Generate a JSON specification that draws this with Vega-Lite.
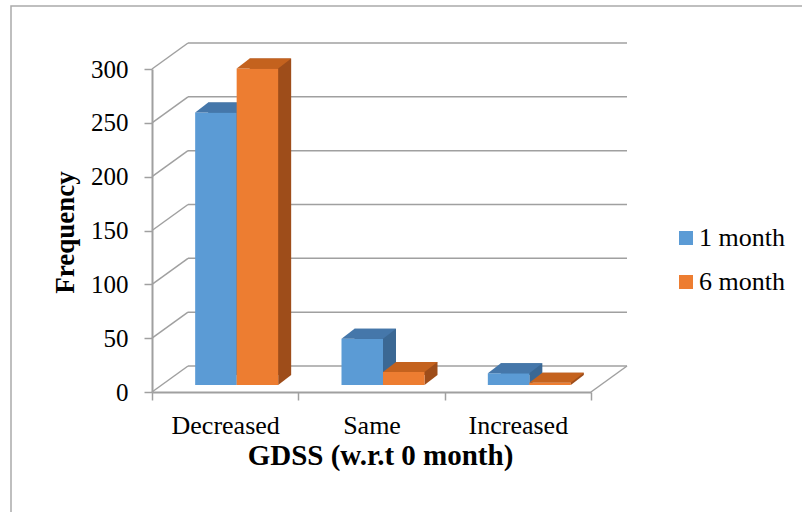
{
  "$schema": "https://vega.github.io/schema/vega-lite/v6.json",
  "width": 796,
  "height": 511,
  "autosize": {"type": "none"},
  "padding": {"left": 11, "top": 6, "right": 0, "bottom": 0},
  "background": "white",
  "config": {
    "view": {"stroke": "#ABABAB", "strokeWidth": 1.5, "fill": "white"},
    "font": "Liberation Serif"
  },
  "datasets": {
    "levels": [
      {"v": 0}, {"v": 50}, {"v": 100}, {"v": 150}, {"v": 200}, {"v": 250}, {"v": 300}
    ],
    "freq": [
      {"gdss": "Decreased", "period": "1 month", "count": 253},
      {"gdss": "Same", "period": "1 month", "count": 43},
      {"gdss": "Increased", "period": "1 month", "count": 11},
      {"gdss": "Decreased", "period": "6 month", "count": 294},
      {"gdss": "Same", "period": "6 month", "count": 12},
      {"gdss": "Increased", "period": "6 month", "count": 2}
    ]
  },
  "layer": [
    {
      "data": {"name": "levels"},
      "layer": [
        {
          "mark": {"type": "rule", "color": "#A0A0A0", "strokeWidth": 1.5, "xOffset": 36, "x2Offset": 36, "yOffset": -26},
          "encoding": {
            "x": {"datum": 0, "type": "quantitative", "scale": {"domain": [0, 3], "range": [141, 580], "nice": false, "zero": false}, "axis": null},
            "x2": {"datum": 3},
            "y": {
              "field": "v", "type": "quantitative",
              "scale": {"domain": [0, 300], "range": [386, 63], "nice": false, "zero": true},
              "axis": {
                "values": [0, 50, 100, 150, 200, 250, 300],
                "offset": -141,
                "grid": false,
                "domainColor": "#A0A0A0", "domainWidth": 2,
                "tickColor": "#A0A0A0", "tickWidth": 1.5, "tickSize": 8,
                "labelFont": "Liberation Serif", "labelFontSize": 25, "labelColor": "#000000", "labelPadding": 16,
                "title": "Frequency",
                "titleFont": "Liberation Serif", "titleFontSize": 27, "titleFontWeight": "bold", "titleColor": "#000000",
                "titleX": -79, "titleY": 226, "titleAngle": -90, "titleAlign": "center", "titleBaseline": "alphabetic"
              }
            }
          }
        },
        {
          "mark": {"type": "point", "shape": "M0 0L1 -0.7222", "size": 5184, "filled": false, "color": "#A0A0A0", "strokeWidth": 1.5, "opacity": 1},
          "encoding": {
            "x": {"datum": 0, "type": "quantitative", "scale": {"domain": [0, 3], "range": [141, 580], "nice": false, "zero": false}, "axis": null},
            "y": {"field": "v", "type": "quantitative", "scale": {"domain": [0, 300], "range": [386, 63], "nice": false, "zero": true}}
          }
        },
        {
          "transform": [{"filter": "datum.v == 0"}],
          "mark": {"type": "point", "shape": "M0 0L1 -0.7222", "size": 5184, "filled": false, "color": "#A0A0A0", "strokeWidth": 1.5, "opacity": 1},
          "encoding": {
            "x": {"datum": 3, "type": "quantitative", "scale": {"domain": [0, 3], "range": [141, 580], "nice": false, "zero": false}, "axis": null},
            "y": {"field": "v", "type": "quantitative", "scale": {"domain": [0, 300], "range": [386, 63], "nice": false, "zero": true}}
          }
        }
      ]
    },
    {
      "data": {"name": "freq"},
      "layer": [
        {
          "transform": [{"filter": "datum.period == '1 month'"}],
          "mark": {"type": "bar", "color": "#3B6894", "width": {"band": 0.2836}, "xOffset": 3.75, "yOffset": -17, "y2Offset": -17},
          "encoding": {
            "x": {"field": "gdss", "type": "nominal", "scale": {"domain": ["Decreased", "Same", "Increased"], "range": [141, 580], "paddingInner": 0, "paddingOuter": 0}},
            "y": {"field": "count", "type": "quantitative", "scale": {"domain": [0, 300], "range": [386, 63], "nice": false, "zero": true}},
            "y2": {"datum": 0}
          }
        },
        {
          "transform": [{"filter": "datum.period == '1 month'"}],
          "mark": {"type": "point", "shape": "M0.6484 0L0.6484 -0.3125L1.0547 -0.3125Z", "size": 4096, "filled": true, "opacity": 1, "strokeWidth": 0, "color": "#3B6894", "xOffset": -9.25, "yOffset": -7},
          "encoding": {
            "x": {"field": "gdss", "type": "nominal", "scale": {"domain": ["Decreased", "Same", "Increased"], "range": [141, 580], "paddingInner": 0, "paddingOuter": 0}},
            "y": {"datum": 0, "type": "quantitative", "scale": {"domain": [0, 300], "range": [386, 63], "nice": false, "zero": true}}
          }
        },
        {
          "transform": [{"filter": "datum.period == '1 month'"}],
          "mark": {"type": "bar", "width": {"band": 0.2836}, "xOffset": -9.25, "yOffset": -7, "y2Offset": -7},
          "encoding": {
            "x": {
              "field": "gdss", "type": "nominal",
              "scale": {"domain": ["Decreased", "Same", "Increased"], "range": [141, 580], "paddingInner": 0, "paddingOuter": 0},
              "axis": {
                "orient": "bottom", "offset": -125, "tickBand": "extent",
                "tickSize": 8, "tickColor": "#A0A0A0", "tickWidth": 1.5,
                "domainColor": "#A0A0A0", "domainWidth": 2,
                "labelFont": "Liberation Serif", "labelFontSize": 26, "labelColor": "#000000", "labelAngle": 0,
                "labelAlign": "center", "labelPadding": 33, "labelBaseline": "alphabetic",
                "title": "GDSS (w.r.t 0 month)",
                "titleFont": "Liberation Serif", "titleFontSize": 29, "titleFontWeight": "bold", "titleColor": "#000000",
                "titleX": 369, "titleY": 72, "titleAlign": "center", "titleBaseline": "alphabetic"
              }
            },
            "y": {"field": "count", "type": "quantitative", "scale": {"domain": [0, 300], "range": [386, 63], "nice": false, "zero": true}},
            "y2": {"datum": 0},
            "color": {
              "field": "period", "type": "nominal",
              "scale": {"domain": ["1 month", "6 month"], "range": ["#5B9BD5", "#ED7D31"]},
              "legend": {
                "orient": "none", "legendX": 662, "legendY": 219, "direction": "vertical",
                "title": null, "symbolType": "square", "symbolSize": 196, "symbolStrokeWidth": 0,
                "labelFont": "Liberation Serif", "labelFontSize": 26, "labelColor": "#000000",
                "labelOffset": 0, "rowPadding": 18, "padding": 0
              }
            }
          }
        },
        {
          "transform": [{"filter": "datum.period == '1 month'"}],
          "mark": {"type": "point", "shape": "M-0.6484 0L0.6484 0L1.0547 -0.3125L-0.2422 -0.3125Z", "size": 4096, "filled": true, "opacity": 1, "strokeWidth": 0, "color": "#4577AA", "xOffset": -9.25, "yOffset": -7},
          "encoding": {
            "x": {"field": "gdss", "type": "nominal", "scale": {"domain": ["Decreased", "Same", "Increased"], "range": [141, 580], "paddingInner": 0, "paddingOuter": 0}},
            "y": {"field": "count", "type": "quantitative", "scale": {"domain": [0, 300], "range": [386, 63], "nice": false, "zero": true}}
          }
        },
        {
          "transform": [{"filter": "datum.period == '6 month'"}],
          "mark": {"type": "bar", "color": "#9E4D1A", "width": {"band": 0.2836}, "xOffset": 45.25, "yOffset": -17, "y2Offset": -17},
          "encoding": {
            "x": {"field": "gdss", "type": "nominal", "scale": {"domain": ["Decreased", "Same", "Increased"], "range": [141, 580], "paddingInner": 0, "paddingOuter": 0}},
            "y": {"field": "count", "type": "quantitative", "scale": {"domain": [0, 300], "range": [386, 63], "nice": false, "zero": true}},
            "y2": {"datum": 0}
          }
        },
        {
          "transform": [{"filter": "datum.period == '6 month'"}],
          "mark": {"type": "point", "shape": "M0.6484 0L0.6484 -0.3125L1.0547 -0.3125Z", "size": 4096, "filled": true, "opacity": 1, "strokeWidth": 0, "color": "#9E4D1A", "xOffset": 32.25, "yOffset": -7},
          "encoding": {
            "x": {"field": "gdss", "type": "nominal", "scale": {"domain": ["Decreased", "Same", "Increased"], "range": [141, 580], "paddingInner": 0, "paddingOuter": 0}},
            "y": {"datum": 0, "type": "quantitative", "scale": {"domain": [0, 300], "range": [386, 63], "nice": false, "zero": true}}
          }
        },
        {
          "transform": [{"filter": "datum.period == '6 month'"}],
          "mark": {"type": "bar", "width": {"band": 0.2836}, "xOffset": 32.25, "yOffset": -7, "y2Offset": -7},
          "encoding": {
            "x": {"field": "gdss", "type": "nominal", "scale": {"domain": ["Decreased", "Same", "Increased"], "range": [141, 580], "paddingInner": 0, "paddingOuter": 0}},
            "y": {"field": "count", "type": "quantitative", "scale": {"domain": [0, 300], "range": [386, 63], "nice": false, "zero": true}},
            "y2": {"datum": 0},
            "color": {
              "field": "period", "type": "nominal",
              "scale": {"domain": ["1 month", "6 month"], "range": ["#5B9BD5", "#ED7D31"]},
              "legend": {
                "orient": "none", "legendX": 662, "legendY": 219, "direction": "vertical",
                "title": null, "symbolType": "square", "symbolSize": 196, "symbolStrokeWidth": 0,
                "labelFont": "Liberation Serif", "labelFontSize": 26, "labelColor": "#000000",
                "labelOffset": 0, "rowPadding": 18, "padding": 0
              }
            }
          }
        },
        {
          "transform": [{"filter": "datum.period == '6 month'"}],
          "mark": {"type": "point", "shape": "M-0.6484 0L0.6484 0L1.0547 -0.3125L-0.2422 -0.3125Z", "size": 4096, "filled": true, "opacity": 1, "strokeWidth": 0, "color": "#C4621E", "xOffset": 32.25, "yOffset": -7},
          "encoding": {
            "x": {"field": "gdss", "type": "nominal", "scale": {"domain": ["Decreased", "Same", "Increased"], "range": [141, 580], "paddingInner": 0, "paddingOuter": 0}},
            "y": {"field": "count", "type": "quantitative", "scale": {"domain": [0, 300], "range": [386, 63], "nice": false, "zero": true}}
          }
        }
      ]
    }
  ],
  "resolve": {"scale": {"x": "independent"}, "axis": {"x": "independent"}}
}
